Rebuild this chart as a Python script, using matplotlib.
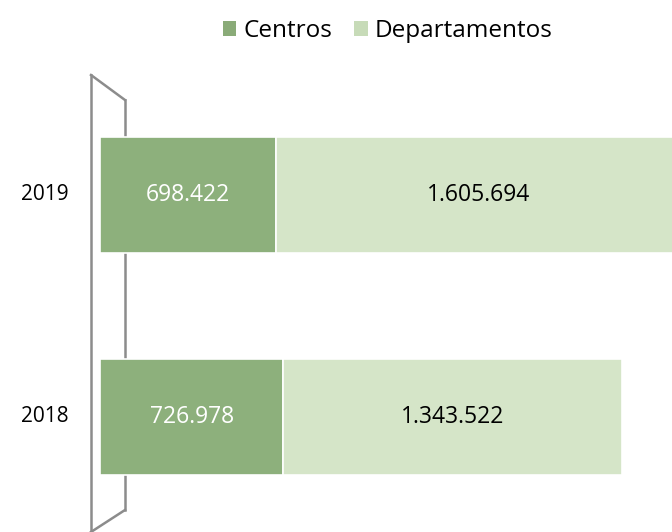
import matplotlib
matplotlib.use("Agg")
import matplotlib.pyplot as plt
from matplotlib.patches import Patch
from matplotlib.lines import Line2D
from matplotlib.transforms import blended_transform_factory

years = ["2018", "2019"]
centros = [726978, 698422]
departamentos = [1343522, 1605694]
series_names = ["Centros", "Departamentos"]

def fmt(v):
    return f"{v:,}".replace(",", ".")

plt.rcParams['font.family'] = ['Open Sans', 'DejaVu Sans']

W, H = 672, 532
fig = plt.figure(figsize=(W/100, H/100), dpi=100)

def fx(x): return x / W
def fy(y): return 1 - y / H
wall_color = "#8c8c8c"
for (x0, y0, x1, y1) in [(91, 75, 91, 532), (91, 75, 125, 100), (125, 100, 125, 510),
                          (125, 510, 91, 532)]:
    fig.add_artist(Line2D([fx(x0), fx(x1)], [fy(y0), fy(y1)], color=wall_color, lw=1.8,
                          transform=fig.transFigure, zorder=0))

ax = fig.add_axes([fx(100), fy(528), fx(672) - fx(100), fy(84) - fy(528)])
ax.set_xlim(0, 2.27e6)
ax.set_ylim(-0.5, 1.5)
ax.axis("off")

c_dark = "#8db07c"
c_light = "#d5e5c8"
ypos = list(range(len(years)))
h = 0.52
ax.barh(ypos, centros, height=h, color=c_dark, edgecolor="white", linewidth=1.2, zorder=3)
ax.barh(ypos, departamentos, left=centros, height=h, color=c_light, edgecolor="white",
        linewidth=1.2, zorder=3)

tr = blended_transform_factory(fig.transFigure, ax.transData)
for y, c, d in zip(ypos, centros, departamentos):
    ax.text(c / 2, y, fmt(c), ha="center", va="center", color="white", fontsize=16.5, zorder=4)
    ax.text(c + d / 2, y, fmt(d), ha="center", va="center", color="black", fontsize=16.5, zorder=4)
    ax.text(fx(45), y, years[y], ha="center", va="center", transform=tr,
            color="black", fontsize=15, clip_on=False)

handles = [Patch(facecolor="#8aab78", edgecolor="none"), Patch(facecolor="#c7dbb8", edgecolor="none")]
fig.legend(handles, series_names, loc="center", bbox_to_anchor=(fx(388), fy(31)), ncol=2,
           frameon=False, fontsize=17.5, handlelength=0.55, handleheight=0.55, handletextpad=0.3,
           columnspacing=0.9)

fig.savefig("out.png", dpi=100)
